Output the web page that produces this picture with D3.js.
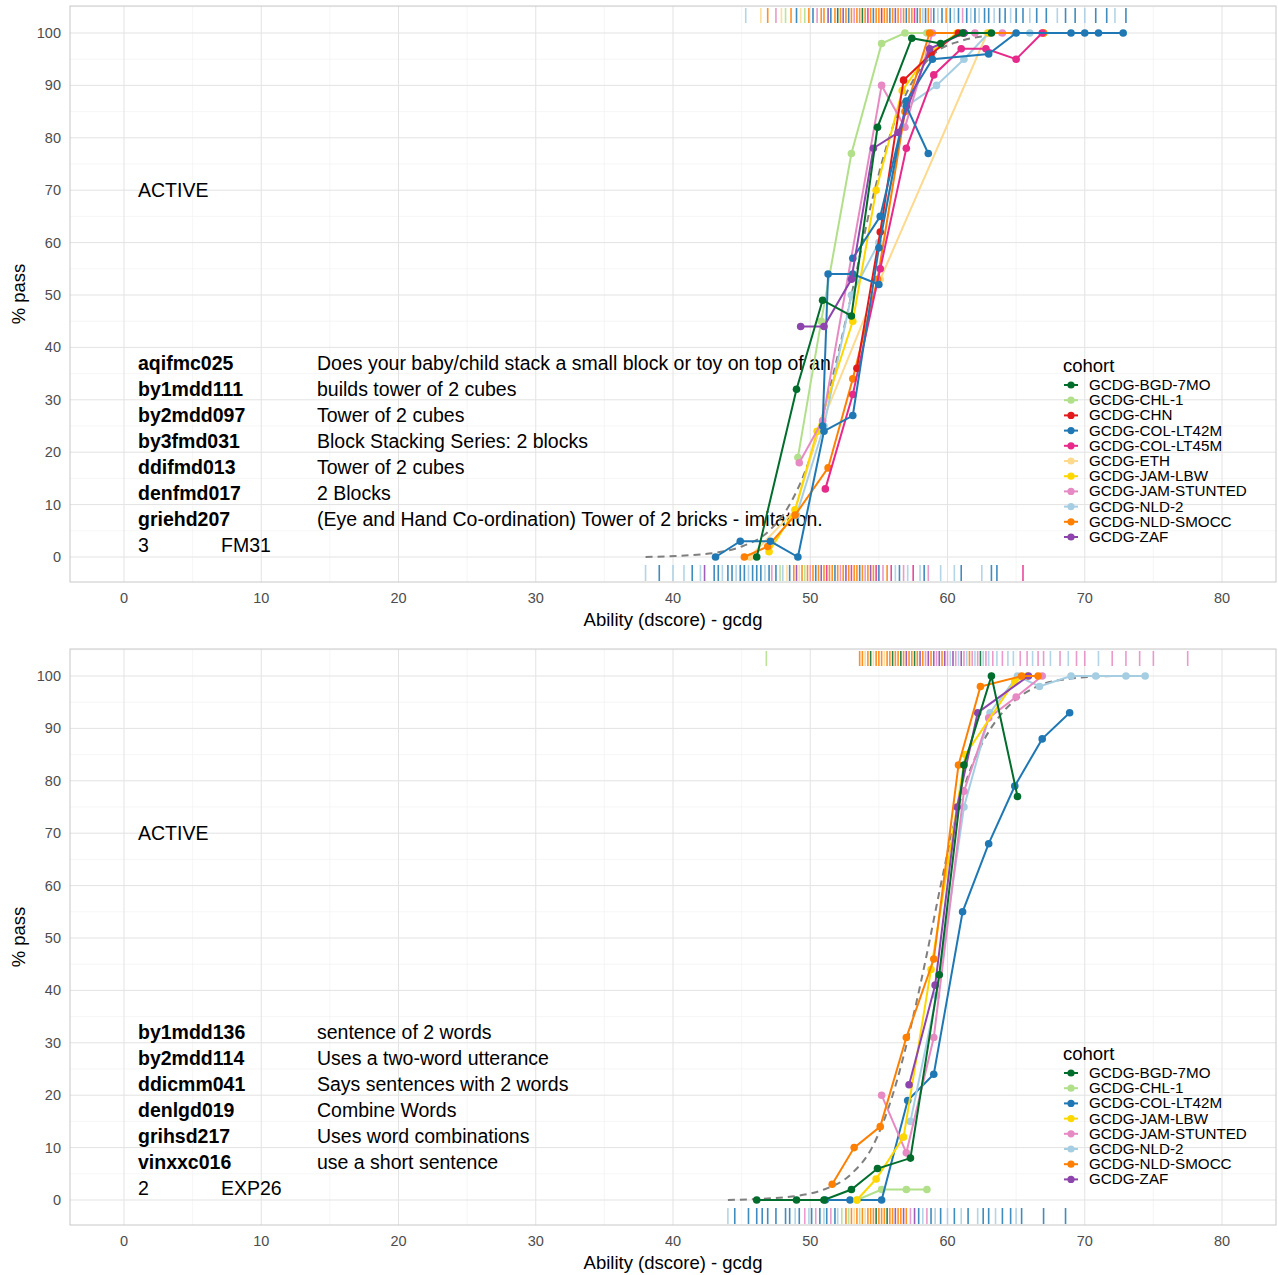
<!DOCTYPE html>
<html><head><meta charset="utf-8">
<script src="https://cdn.jsdelivr.net/npm/d3@7"></script>
<style>body{margin:0;background:#fff;font-family:Arial,"Liberation Sans",sans-serif}</style>
</head><body><svg id="c" width="1278" height="1275"></svg>
<script>
'use strict';
var cohortColors = {
  'GCDG-BGD-7MO': '#006d2c', 'GCDG-CHL-1': '#b2df8a', 'GCDG-CHN': '#e31a1c',
  'GCDG-COL-LT42M': '#1f78b4', 'GCDG-COL-LT45M': '#e7298a', 'GCDG-ETH': '#fed98e',
  'GCDG-JAM-LBW': '#ffd700', 'GCDG-JAM-STUNTED': '#e78ac3', 'GCDG-NLD-2': '#a6cee3',
  'GCDG-NLD-SMOCC': '#ff7f00', 'GCDG-ZAF': '#8e44ad'
};

// ---- top panel: FM31 ----
var topLines = [
  ['GCDG-ETH', [[45.6,0],[48.9,9],[50.6,24],[55.1,53],[62.9,100],[67,100]]],
  ['GCDG-NLD-2', [[49,8],[51,25],[53,50],[55,60],[57,86],[59.2,90],[61.2,95],[63,100],[66,100]]],
  ['GCDG-CHL-1', [[49.1,19],[50.8,45],[53.0,77],[55.2,98],[56.9,100],[58.5,100]]],
  ['GCDG-JAM-LBW', [[47.0,1],[48.9,9],[50.5,24],[53.1,45],[54.8,70],[56.7,89],[58.6,96],[60.7,100],[63,100],[67,100]]],
  ['GCDG-JAM-STUNTED', [[49.2,18],[50.9,26],[55.2,90],[56.9,82],[58.9,100],[62,100],[64,100]]],
  ['GCDG-NLD-SMOCC', [[45.2,0],[46.9,2],[48.9,8],[51.3,17],[53.1,34],[54.9,53],[56.9,85],[58.7,100],[67,100]]],
  ['GCDG-COL-LT45M', [[51.1,13],[53.1,31],[55.1,55],[57.0,78],[59.0,92],[61.0,97],[62.8,97],[65.0,95],[66.9,100]]],
  ['GCDG-CHN', [[53.4,36],[55.1,62],[56.8,91],[58.8,96],[60.8,100],[61.2,100]]],
  ['GCDG-COL-LT42M', [[43.1,0],[44.9,3],[47.1,3],[49.1,0],[51.0,24],[53.1,27],[55.0,59],[57.0,87],[58.9,95],[63.0,96],[65,100],[69,100],[70,100],[71,100],[72.8,100]]],
  ['GCDG-COL-LT42M', [[50.9,25],[51.3,54],[53.1,54],[55.0,52]]],
  ['GCDG-COL-LT42M', [[53.1,57],[55.1,65],[57.0,86],[58.6,77]]],
  ['GCDG-ZAF', [[49.3,44],[51.0,44],[53.0,53],[54.6,78],[56.4,81],[58.7,97],[61.2,100]]],
  ['GCDG-BGD-7MO', [[46.1,0],[49.0,32],[50.9,49],[53.0,46],[54.9,82],[57.4,99],[59.5,98],[61.1,100],[63.2,100]]]
];
var topCurve = [[38,0],[42,0.5],[45,2],[47,5],[48.5,10],[50,19],[51.5,33],[53,50],[54.5,68],[56,82],[57.5,91],[59,96],[61,98.5],[63,99.5],[66,100],[68,100]];
var topCohorts = ['GCDG-BGD-7MO','GCDG-CHL-1','GCDG-CHN','GCDG-COL-LT42M','GCDG-COL-LT45M','GCDG-ETH','GCDG-JAM-LBW','GCDG-JAM-STUNTED','GCDG-NLD-2','GCDG-NLD-SMOCC','GCDG-ZAF'];
var topItems = [['aqifmc025','Does your baby/child stack a small block or toy on top of an'],
  ['by1mdd111','builds tower of 2 cubes'],['by2mdd097','Tower of 2 cubes'],
  ['by3fmd031','Block Stacking Series: 2 blocks'],['ddifmd013','Tower of 2 cubes'],
  ['denfmd017','2 Blocks'],['griehd207','(Eye and Hand Co-ordination)  Tower of 2 bricks - imitation.']];
var topTag = ['3', 'FM31'];
// rug: pass (top) and fail (bottom), "x:cohortIndex"
var topRugPass = '45.3:8 46.4:5 46.9:9 47.5:7 47.9:5 48.2:1 48.6:9 49.0:3 49.3:5 49.6:1 49.9:9 50.2:3 50.5:7 50.8:9 51.0:9 51.3:10 51.5:3 51.8:9 52.0:0 52.2:9 52.4:10 52.6:9 52.8:3 53.0:9 53.2:7 53.4:9 53.6:9 53.8:0 54.0:9 54.2:4 54.4:9 54.6:3 54.8:9 55.0:9 55.2:2 55.4:9 55.6:9 55.8:3 56.0:9 56.2:10 56.4:9 56.6:7 56.8:9 57.0:3 57.2:9 57.4:9 57.6:4 57.8:3 58.0:9 58.2:8 58.4:3 58.6:9 58.8:7 59.0:3 59.3:8 59.6:3 59.9:9 60.2:3 60.5:8 60.8:3 61.1:7 61.4:3 61.7:8 62.0:3 62.3:8 62.7:3 63.0:3 63.4:8 63.8:3 64.2:3 64.6:8 65.0:3 65.5:3 66.0:8 66.5:3 67.2:3 68.0:8 68.6:3 69.3:3 70.0:8 70.8:3 71.6:3 72.2:8 73.0:3';
var topRugFail = '38.0:8 39.0:3 40.0:8 40.8:8 41.4:3 42.0:8 42.3:10 43.0:3 43.3:3 43.6:8 44.0:3 44.3:3 44.6:8 44.9:3 45.2:3 45.5:8 45.8:3 46.1:3 46.4:3 46.7:8 47.0:3 47.2:7 47.5:3 47.8:1 48.0:8 48.3:5 48.5:3 48.8:9 49.0:10 49.2:5 49.4:9 49.6:1 49.8:9 50.0:7 50.2:9 50.4:3 50.6:9 50.8:10 51.0:9 51.2:4 51.4:9 51.6:9 51.8:3 52.0:9 52.2:7 52.4:9 52.6:10 52.8:9 53.0:4 53.2:9 53.4:9 53.6:3 53.8:9 54.0:7 54.2:9 54.4:10 54.6:9 54.8:4 55.0:3 55.3:7 55.6:9 55.9:4 56.2:8 56.5:3 56.8:7 57.1:8 57.5:4 58.0:8 58.3:3 58.6:7 59.5:8 60.5:8 61.0:3 62.5:8 63.2:3 63.6:3 65.5:4';

// ---- bottom panel: EXP26 ----
var botLines = [
  ['GCDG-CHL-1', [[53.4,0],[55.2,2],[57.0,2],[58.5,2]]],
  ['GCDG-COL-LT42M', [[51.1,0],[52.9,0],[55.2,0],[57.1,19],[59.0,24],[61.1,55],[63.0,68],[64.9,79],[66.9,88],[68.9,93]]],
  ['GCDG-NLD-2', [[57.3,15],[59.2,39],[61.2,75],[63.1,93],[65.1,100],[66.7,98],[69,100],[70.8,100],[73,100],[74.4,100]]],
  ['GCDG-JAM-STUNTED', [[55.2,20],[57.0,9],[59.0,31],[61.2,78],[63.0,92],[65.0,96],[66.9,100]]],
  ['GCDG-JAM-LBW', [[53.4,0],[54.8,4],[56.8,12],[58.8,44],[61.3,85],[64.9,99],[65.8,100]]],
  ['GCDG-ZAF', [[57.2,22],[59.1,41],[60.7,75],[62.2,93],[65.9,100]]],
  ['GCDG-NLD-SMOCC', [[51.6,3],[53.2,10],[55.1,14],[57.0,31],[59.0,46],[60.8,83],[62.4,98],[65.4,100],[66.6,100]]],
  ['GCDG-BGD-7MO', [[46.1,0],[49.0,0],[51.0,0],[53.0,2],[54.9,6],[57.3,8],[59.4,43],[61.2,83],[63.2,100],[65.1,77]]]
];
var botCurve = [[44,0],[48,0.5],[51,2],[53,5],[54.5,10],[56,20],[57.5,35],[58.5,47],[59.5,60],[60.5,72],[61.5,81],[62.5,87],[64,93],[65.5,96.5],[67,98.5],[69,99.5],[72,100]];
var botCohorts = ['GCDG-BGD-7MO','GCDG-CHL-1','GCDG-COL-LT42M','GCDG-JAM-LBW','GCDG-JAM-STUNTED','GCDG-NLD-2','GCDG-NLD-SMOCC','GCDG-ZAF'];
var botItems = [['by1mdd136','sentence of 2 words'],['by2mdd114','Uses a two-word utterance'],
  ['ddicmm041','Says sentences with 2 words'],['denlgd019','Combine Words'],
  ['grihsd217','Uses word combinations'],['vinxxc016','use a short sentence']];
var botTag = ['2', 'EXP26'];
var botRugPass = '46.8:1 53.6:9 53.8:9 54.0:5 54.2:9 54.4:0 54.6:5 54.8:9 55.0:9 55.2:9 55.4:5 55.6:9 55.8:9 56.0:0 56.2:9 56.4:9 56.6:0 56.8:9 57.0:10 57.2:9 57.4:9 57.6:0 57.8:9 58.0:10 58.2:9 58.4:7 58.6:10 58.8:9 59.0:10 59.2:7 59.4:10 59.6:9 59.8:10 60.0:7 60.2:8 60.4:10 60.6:7 60.8:8 61.0:10 61.2:7 61.4:8 61.6:9 61.8:7 62.0:8 62.2:7 62.4:0 62.6:8 62.8:7 63.0:8 63.3:7 63.6:8 64.0:7 64.4:8 64.8:8 65.3:7 65.8:7 66.2:8 66.6:7 67.0:7 67.5:8 68.2:7 68.8:8 69.4:7 70.0:7 71.0:8 72.0:7 73.0:7 74.0:7 75.0:7 77.5:7';
var botRugFail = '44.0:8 44.5:3 45.5:3 46.1:3 46.5:3 46.9:3 47.5:3 48.2:3 48.5:3 48.9:8 49.2:3 49.6:7 49.9:8 50.1:3 50.4:7 50.7:3 51.0:8 51.2:3 51.5:7 51.8:3 52.0:8 52.3:1 52.6:9 52.8:1 53.0:9 53.2:5 53.4:9 53.6:1 53.8:9 54.0:5 54.2:9 54.4:9 54.6:9 54.8:0 55.0:9 55.2:9 55.4:9 55.6:0 55.8:9 56.0:9 56.2:10 56.4:9 56.6:9 56.8:10 57.0:9 57.3:7 57.6:10 57.9:3 58.2:8 58.5:7 58.8:3 59.1:8 59.5:3 60.0:8 60.5:3 61.0:8 61.5:3 62.2:8 62.6:3 63.0:3 63.5:8 64.0:3 64.6:3 65.0:8 65.4:3 67.0:3 68.6:3';

var svg = d3.select('#c');
var x = d3.scaleLinear().domain([0, 80]).range([124, 1222]);
var rugColors = [ '#006d2c','#b2df8a','#e31a1c','#1f78b4','#e7298a','#fed98e','#ffd700','#e78ac3','#a6cee3','#ff7f00','#8e44ad' ];

function panel(top, lines, curve, cohorts, items, tag, rugPass, rugFail) {
  var y = d3.scaleLinear().domain([0, 100]).range([top + 551, top + 27]);
  var x0 = 70, x1 = 1276, y0 = top, y1 = top + 576;
  var g = svg.append('g');
  // minor grid
  d3.range(-5, 90, 10).forEach(function(v) {
    if (x(v) > x0 && x(v) < x1) g.append('line').attr('x1', x(v)).attr('x2', x(v)).attr('y1', y0).attr('y2', y1).attr('stroke', '#f0f0f0').attr('stroke-width', 0.6);
  });
  d3.range(-5, 110, 10).forEach(function(v) {
    if (y(v) > y0 && y(v) < y1) g.append('line').attr('x1', x0).attr('x2', x1).attr('y1', y(v)).attr('y2', y(v)).attr('stroke', '#f0f0f0').attr('stroke-width', 0.6);
  });
  // major grid
  d3.range(0, 90, 10).forEach(function(v) {
    g.append('line').attr('x1', x(v)).attr('x2', x(v)).attr('y1', y0).attr('y2', y1).attr('stroke', '#e3e3e3').attr('stroke-width', 1);
  });
  d3.range(0, 110, 10).forEach(function(v) {
    g.append('line').attr('x1', x0).attr('x2', x1).attr('y1', y(v)).attr('y2', y(v)).attr('stroke', '#e3e3e3').attr('stroke-width', 1);
  });
  g.append('rect').attr('x', x0).attr('y', y0).attr('width', x1 - x0).attr('height', y1 - y0).attr('fill', 'none').attr('stroke', '#c8c8c8');

  // rugs
  function rug(str, ya, yb) {
    str.split(' ').forEach(function(s) {
      var p = s.split(':');
      g.append('line').attr('x1', x(+p[0])).attr('x2', x(+p[0])).attr('y1', ya).attr('y2', yb)
        .attr('stroke', rugColors[+p[1]]).attr('stroke-width', 1.6).attr('opacity', 0.85);
    });
  }
  rug(rugPass, y0 + 2, y0 + 17);
  rug(rugFail, y1 - 17, y1 - 1);

  // axes labels
  d3.range(0, 90, 10).forEach(function(v) {
    g.append('text').attr('x', x(v)).attr('y', y1 + 21).attr('text-anchor', 'middle').attr('font-size', 14.5).attr('fill', '#4d4d4d').text(v);
  });
  d3.range(0, 110, 10).forEach(function(v) {
    g.append('text').attr('x', 61).attr('y', y(v) + 5).attr('text-anchor', 'end').attr('font-size', 14.5).attr('fill', '#4d4d4d').text(v);
  });
  g.append('text').attr('x', x(40)).attr('y', y1 + 44).attr('text-anchor', 'middle').attr('font-size', 18.5).text('Ability (dscore) - gcdg');
  g.append('text').attr('transform', 'translate(25,' + ((y0 + y1) / 2) + ') rotate(-90)').attr('text-anchor', 'middle').attr('font-size', 18.5).text('% pass');

  // text annotations
  g.append('text').attr('x', 138).attr('y', y(70) + 7).attr('font-size', 19.5).text('ACTIVE');
  var ty = y(tag[0] === '3' ? 37 : 32);
  items.forEach(function(it, i) {
    g.append('text').attr('x', 138).attr('y', ty + i * 26 + 7).attr('font-size', 19.5).attr('font-weight', 'bold').text(it[0]);
    g.append('text').attr('x', 317).attr('y', ty + i * 26 + 7).attr('font-size', 19.5).text(it[1]);
  });
  g.append('text').attr('x', 138).attr('y', ty + items.length * 26 + 7).attr('font-size', 19.5).text(tag[0]);
  g.append('text').attr('x', 221).attr('y', ty + items.length * 26 + 7).attr('font-size', 19.5).text(tag[1]);

  // reference curve
  var line = d3.line().x(function(d) { return x(d[0]); }).y(function(d) { return y(d[1]); }).curve(d3.curveMonotoneX);
  g.append('path').attr('d', line(curve)).attr('fill', 'none').attr('stroke', '#7f7f7f').attr('stroke-width', 2).attr('stroke-dasharray', '7,5');

  var lin = d3.line().x(function(d) { return x(d[0]); }).y(function(d) { return y(d[1]); });
  lines.forEach(function(l) {
    var c = cohortColors[l[0]];
    g.append('path').attr('d', lin(l[1])).attr('fill', 'none').attr('stroke', c).attr('stroke-width', 2);
    g.selectAll(null).data(l[1]).enter().append('circle')
      .attr('cx', function(d) { return x(d[0]); }).attr('cy', function(d) { return y(d[1]); })
      .attr('r', 3.8).attr('fill', c);
  });

  // legend
  var ly = tag[0] === '3' ? top + 360 : top + 405;
  g.append('text').attr('x', 1063).attr('y', ly + 6).attr('font-size', 18.5).text('cohort');
  cohorts.forEach(function(c, i) {
    var yy = ly + 19 + i * 15.2;
    g.append('line').attr('x1', 1064).attr('x2', 1078).attr('y1', yy).attr('y2', yy).attr('stroke', cohortColors[c]).attr('stroke-width', 2);
    g.append('circle').attr('cx', 1071).attr('cy', yy).attr('r', 3.6).attr('fill', cohortColors[c]);
    g.append('text').attr('x', 1089).attr('y', yy + 5).attr('font-size', 15.2).text(c);
  });
}

panel(6, topLines, topCurve, topCohorts, topItems, topTag, topRugPass, topRugFail);
panel(649, botLines, botCurve, botCohorts, botItems, botTag, botRugPass, botRugFail);
</script></body></html>
